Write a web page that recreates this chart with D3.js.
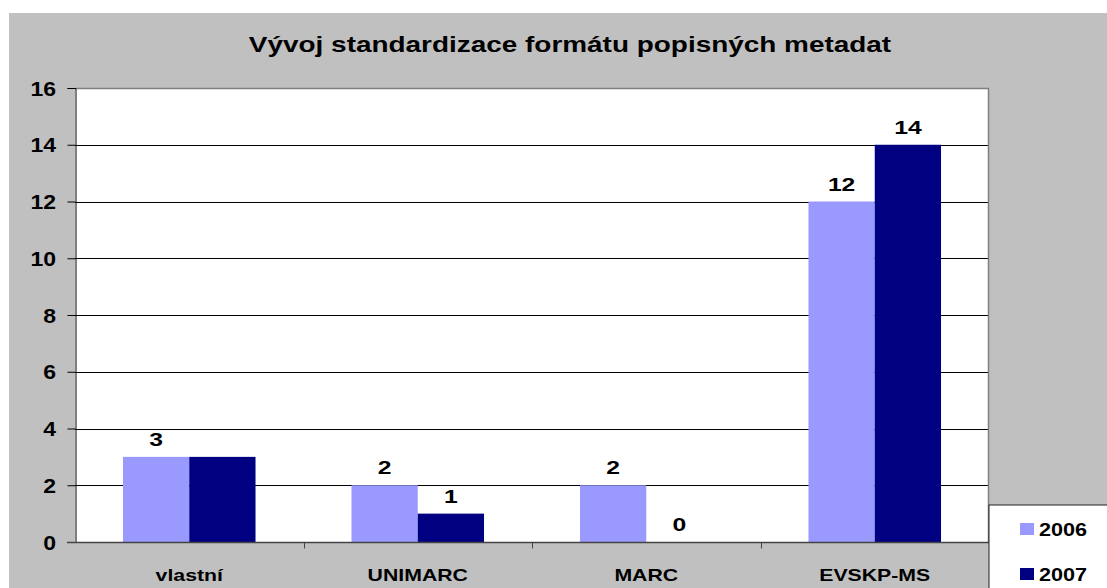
<!DOCTYPE html>
<html><head><meta charset="utf-8">
<script src="https://cdn.jsdelivr.net/npm/d3@7"></script>
<style>body{margin:0;background:#fff}svg{display:block}text{font-family:"Liberation Sans",Arial,sans-serif;font-weight:bold;fill:#000}</style>
</head><body>
<script>
const title = "Vývoj standardizace formátu popisných metadat";
const categories = ["vlastní", "UNIMARC", "MARC", "EVSKP-MS"];
const seriesNames = ["2006", "2007"];
const values2006 = [3, 2, 2, 12];
const values2007 = [3, 1, 0, 14];
const hiddenLabels = ["vlastní|2007"];
const yTicks = [0, 2, 4, 6, 8, 10, 12, 14, 16];
const colors = ["#9999FF", "#000080"];

const W = 1107, H = 588;
const svg = d3.select("body").append("svg").attr("width", W).attr("height", H);
svg.append("rect").attr("x", 9).attr("y", 13).attr("width", W - 9).attr("height", H - 13).attr("fill", "#C0C0C0");

const L = 75, R = 989, T = 88, B = 542;
svg.append("rect").attr("x", L).attr("y", T).attr("width", R - L).attr("height", B - T).attr("fill", "#fff");

const x0 = d3.scaleBand().domain(categories).range([L, R]).paddingInner(0.42).paddingOuter(0.21);
const x1 = d3.scaleBand().domain(seriesNames).range([0, x0.bandwidth()]);
const y = d3.scaleLinear().domain([0, 16]).range([B, T]);

function stext(parent, x, yy, str, size, sx, anchor) {
  return parent.append("text")
    .attr("transform", `translate(${x},${yy}) scale(${sx},1)`)
    .attr("text-anchor", anchor || "middle")
    .style("font-size", size + "px").text(str);
}

// gridlines
svg.append("g").selectAll("line").data(yTicks.filter(t => t > 0 && t < 16)).join("line")
  .attr("x1", L).attr("x2", R).attr("y1", d => Math.round(y(d)) + 0.5).attr("y2", d => Math.round(y(d)) + 0.5)
  .attr("stroke", "#000").attr("stroke-width", 1);
// border top/right
svg.append("path").attr("d", `M${L},${T + 0.5}H${R - 0.5}V${B}`).attr("fill", "none").attr("stroke", "#808080").attr("stroke-width", 1.5);

const data = categories.map((c, i) => ({ c, v: [values2006[i], values2007[i]] }));
const g = svg.append("g");
data.forEach(d => {
  seriesNames.forEach((s, j) => {
    const v = d.v[j];
    const bx = x0(d.c) + x1(s);
    g.append("rect").attr("x", bx).attr("y", y(v)).attr("width", x1.bandwidth()).attr("height", B - y(v)).attr("fill", colors[j]);
    if (!hiddenLabels.includes(d.c + "|" + s))
      stext(g, bx + x1.bandwidth() / 2, y(v) - 11, v, 19, 1.3);
  });
});

// y axis
const yAxis = d3.axisLeft(y).tickValues(yTicks).tickSize(8).tickPadding(6).tickFormat(d3.format("d"));
const ya = svg.append("g").attr("transform", `translate(${L + 0.5},0)`).call(yAxis);
ya.select(".domain").attr("stroke", "#000");
ya.selectAll(".tick line").attr("stroke", "#000");
const tsx = 1.15;
ya.selectAll(".tick text").style("font-size", "20px").attr("dy", "0.36em")
  .attr("x", -19.5 / tsx).attr("transform", `scale(${tsx},1)`)
  .style("font-family", '"Liberation Sans",Arial,sans-serif');

// x axis
const xa = svg.append("g").attr("transform", `translate(0,${B + 0.5})`);
xa.append("line").attr("x1", L - 8).attr("x2", R).attr("y1", 0).attr("y2", 0).attr("stroke", "#444").attr("stroke-width", 1.5);
const bounds = d3.range(1, categories.length).map(i => x0(categories[i]) - x0.step() * x0.paddingInner() / 2);
xa.selectAll("line.t").data(bounds).join("line").attr("class", "t")
  .attr("x1", d => Math.round(d) + 0.5).attr("x2", d => Math.round(d) + 0.5).attr("y1", 0).attr("y2", 6).attr("stroke", "#444");
categories.forEach(c => stext(xa, x0(c) + x0.bandwidth() / 2, 38, c, 17, 1.25));

// title
stext(svg, 570, 52, title, 22, 1.27);

// legend
const lg = svg.append("g");
lg.append("rect").attr("x", 989).attr("y", 505).attr("width", 130).attr("height", 100).attr("fill", "#fff").attr("stroke", "#222").attr("stroke-width", 1);
seriesNames.forEach((s, j) => {
  const yy = 529 + j * 45;
  lg.append("rect").attr("x", 1020).attr("y", yy - 6).attr("width", 14).attr("height", 12).attr("fill", colors[j]);
  stext(lg, 1039, yy + 7, s, 18, 1.2, "start");
});
</script>
</body></html>
